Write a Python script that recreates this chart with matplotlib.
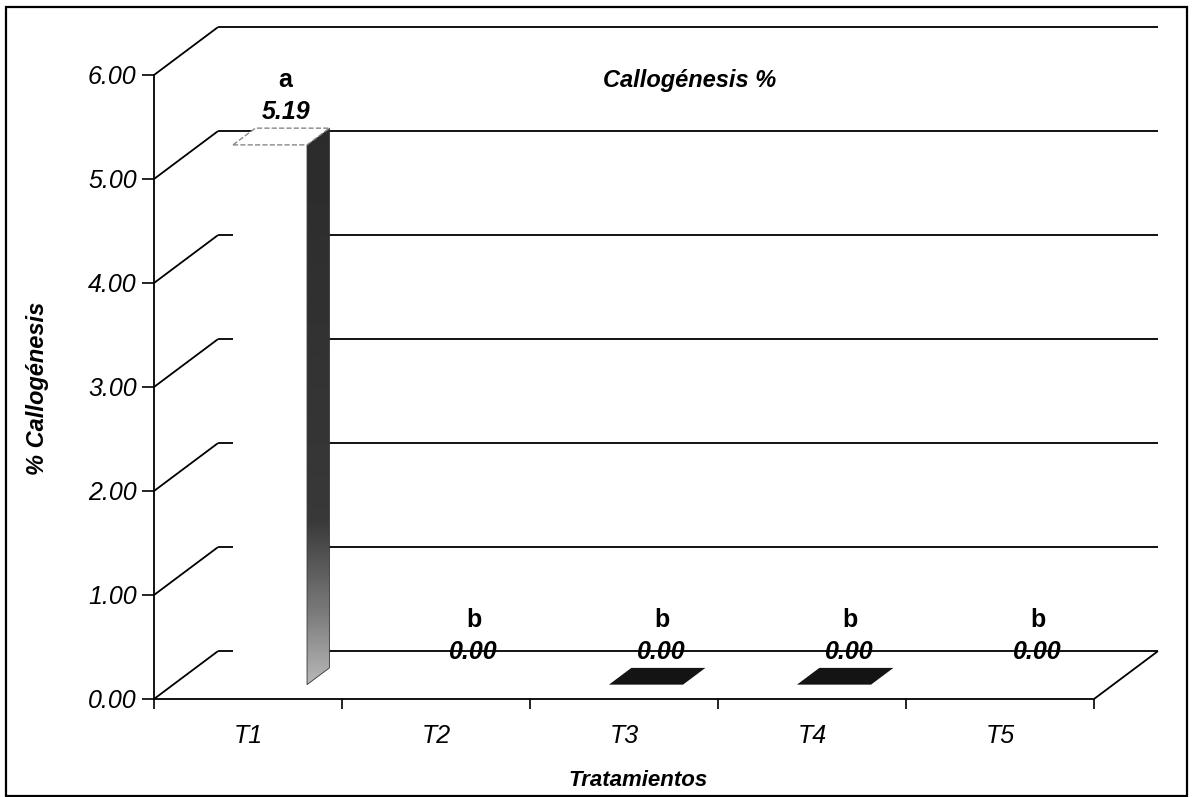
import numpy as np
import matplotlib
matplotlib.use("Agg")
import matplotlib.pyplot as plt
from matplotlib.patches import Polygon, Rectangle

# data
treatments = ["T1", "T2", "T3", "T4", "T5"]
callogenesis = [5.19, 0.00, 0.00, 0.00, 0.00]
groupLetters = ["a", "b", "b", "b", "b"]
yTicks = [0, 1, 2, 3, 4, 5, 6]

# flat top colour of each bar (the scan shows T3 and T4 dark)
topColors = ["white", "white", "#141414", "#141414", "white"]

plt.rcParams["font.family"] = ["Liberation Sans", "DejaVu Sans"]

# fake 3D: depth vector in data units (x in categories, y in %)
DX = 0.34
DY = 0.46
barLeft, barWidth = 0.318, 0.394
zFront, zBack = 0.30, 0.65

fig = plt.figure(figsize=(11.92, 7.97), dpi=100)
ax = fig.add_axes([154 / 1192, 98 / 797, 940 / 1192, 624 / 797])
ax.set_xlim(0, len(treatments))
ax.set_ylim(yTicks[0], yTicks[-1])

lineKw = dict(color="black", lw=1.3, clip_on=False, zorder=1, solid_capstyle="butt")

# side wall diagonals + back wall gridlines
for k in yTicks:
    ax.plot([0, DX], [k, k + DY], **lineKw)
    ax.plot([DX, len(treatments) + DX], [k + DY, k + DY], **lineKw)
# right edge of the floor
ax.plot([len(treatments), len(treatments) + DX], [0, DY], **lineKw)

# bars
for i, v in enumerate(callogenesis):
    x0 = i + barLeft
    x1 = x0 + barWidth
    fx0, fx1 = x0 + zFront * DX, x1 + zFront * DX
    bx0, bx1 = x0 + zBack * DX, x1 + zBack * DX
    fy, by = zFront * DY, zBack * DY

    if v > 0:
        front = Polygon([(fx0, fy), (fx1, fy), (fx1, v + fy), (fx0, v + fy)],
                        closed=True, fc="white", ec="none", zorder=3)
        ax.add_patch(front)

        side = Polygon([(fx1, fy), (bx1, by), (bx1, v + by), (fx1, v + fy)],
                       closed=True, fc="none", ec="#333333", lw=0.6, zorder=4)
        ax.add_patch(side)
        # speckled grey in the scan: light at the foot, dark above
        grad = np.concatenate([np.linspace(0.72, 0.45, 30),
                               np.linspace(0.45, 0.22, 30),
                               np.linspace(0.22, 0.17, 140)]).reshape(-1, 1)
        img = ax.imshow(grad, extent=[fx1, bx1, fy, v + by], origin="lower",
                        aspect="auto", cmap="gray", vmin=0, vmax=1,
                        interpolation="bilinear", zorder=3.5)
        img.set_clip_path(side)

    top = Polygon([(fx0, v + fy), (fx1, v + fy), (bx1, v + by), (bx0, v + by)],
                  closed=True, fc=topColors[i],
                  ec="#888888" if v > 0 else "none", lw=1.0, ls="--", zorder=4)
    ax.add_patch(top)

    labX = i + 0.70
    ax.text(labX, v + 0.45, "%.2f" % v, ha="center", va="center", fontsize=18,
            fontweight="bold", fontstyle="italic", zorder=6)
    ax.text(labX, v + 0.76, groupLetters[i], ha="center", va="center",
            fontsize=18, fontweight="bold", zorder=6)

ax.set_xlim(0, len(treatments))
ax.set_ylim(yTicks[0], yTicks[-1])

# axes look
for s in ["top", "right"]:
    ax.spines[s].set_visible(False)
for s in ["left", "bottom"]:
    ax.spines[s].set_linewidth(1.3)
    ax.spines[s].set_zorder(5)

ax.set_yticks(yTicks)
ax.set_yticklabels(["%.2f" % t for t in yTicks], fontsize=18, fontstyle="italic")
ax.tick_params(axis="y", direction="out", length=8.5, width=1.2, pad=4)

ax.set_xticks(range(len(treatments) + 1))
ax.set_xticklabels([])
ax.tick_params(axis="x", which="major", direction="out", length=7, width=1.2)
ax.set_xticks([i + 0.5 for i in range(len(treatments))], minor=True)
ax.set_xticklabels(treatments, minor=True, fontsize=18, fontstyle="italic")
ax.tick_params(axis="x", which="minor", length=0, pad=18)
ax.patch.set_alpha(0)

fig.text(690 / 1192, 1 - 80 / 797, "Callogénesis %", ha="center", va="center",
         fontsize=17, fontweight="bold", fontstyle="italic")
fig.text(38 / 1192, 1 - 388 / 797, "% Callogénesis", ha="center", va="center",
         rotation=90, fontsize=17, fontweight="bold", fontstyle="italic")
fig.text(638 / 1192, 1 - 781 / 797, "Tratamientos", ha="center", va="center",
         fontsize=16, fontweight="bold", fontstyle="italic")

# outer frame
fig.patches.append(Rectangle((6 / 1192, 1 / 797), 1181 / 1192, 789 / 797,
                             transform=fig.transFigure, fill=False,
                             ec="black", lw=1.6))

fig.savefig("out.png", dpi=100)
